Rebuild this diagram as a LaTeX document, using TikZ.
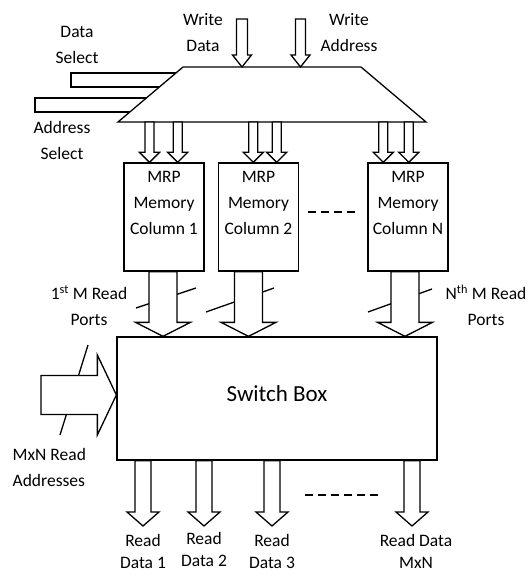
\documentclass[tikz,border=0pt]{standalone}
\usepackage{fontspec}
\setmainfont{Carlito}
\usetikzlibrary{calc}
\newcommand\figfont{\fontsize{17.5}{26}\selectfont}
\newcommand\outfont{\fontsize{17.5}{22}\selectfont}
\newcommand\swfont{\fontsize{23}{28}\selectfont}
\tikzset{box/.style={draw, inner sep=0pt},
         colbox/.style={box, minimum width=80pt, minimum height=108pt},
         lbl/.style={font=\figfont, align=center, inner sep=0pt},
         outlbl/.style={lbl, font=\outfont},
         bus/.style={draw, fill=white},
         gap/.style={dash pattern=on 8pt off 5pt}}
% hollow bus arrows: from, tip, half shaft, half head, head length
\newcommand{\busdown}[5]{%
  \draw[bus] let \p1=(#1), \p2=(#2) in
    (\x2-#3pt,\y1) -- (\x2-#3pt,\y2+#5pt) -- (\x2-#4pt,\y2+#5pt) -- (\x2,\y2)
    -- (\x2+#4pt,\y2+#5pt) -- (\x2+#3pt,\y2+#5pt) -- (\x2+#3pt,\y1) -- cycle;}
\newcommand{\busright}[5]{%
  \draw[bus] let \p1=(#1), \p2=(#2) in
    (\x1,\y2+#3pt) -- (\x2-#5pt,\y2+#3pt) -- (\x2-#5pt,\y2+#4pt) -- (\x2,\y2)
    -- (\x2-#5pt,\y2-#4pt) -- (\x2-#5pt,\y2-#3pt) -- (\x1,\y2-#3pt) -- cycle;}

\begin{document}
\begin{tikzpicture}[x=1pt, y=-1pt, line width=1.3pt]
  \useasboundingbox (0,0) rectangle (528,572);
  % select lines, under the write mux
  \draw (71,73) rectangle (200,87);
  \draw (35,98) rectangle (200,112);
  \draw[fill=white] (118,122) -- (183,67) -- (361,67) -- (426,122) -- cycle;
  \coordinate (wtop) at (272,67);
  \coordinate (wbot) at (272,122);
  \node[lbl] (dsel) at (77,44.5) {Data\\Select};
  \node[lbl] (asel) at (62,140) {Address\\Select};
  \node[lbl] (wdat) at (203,33) {Write\\Data};
  \node[lbl] (wadr) at (349,33) {Write\\Address};
  \coordinate (wd) at (242,19);
  \coordinate (wa) at (300.5,19);
  \busdown{wd}{wd |- wtop}{5.5}{9.5}{12}
  \busdown{wa}{wa |- wtop}{5}{9.5}{12}

  % memory columns
  \node[colbox, label={[lbl, anchor=north, yshift=-8pt]north:{MRP\\Memory\\Column 1}}]
    (col1) at (164,217) {};
  \node[colbox, label={[lbl, anchor=north, yshift=-8pt]north:{MRP\\Memory\\Column 2}}]
    (col2) at (258.5,217) {};
  \node[colbox, label={[lbl, anchor=north, yshift=-8pt]north:{MRP\\Memory\\Column N}}]
    (colN) at (408,217) {};
  \draw[gap] (col2.east) ++(9,-5) -- ++(48,0);
  \foreach \px/\c in {149.5/col1, 177.7/col1, 253.3/col2, 276.7/col2, 383.3/colN, 408.8/colN}
    {\busdown{\px,0 |- wbot}{\px,0 |- \c.north}{4.5}{10}{10}}

  % switch box
  \node[box, minimum width=320pt, minimum height=123pt] (sw) at (277,398.5) {};
  \node[font=\swfont, inner sep=0pt] (swtxt) at ([yshift=5pt]sw.center) {Switch Box};

  % read ports
  \draw (136,308) -- (196,288);
  \draw (206,312) -- (274,288);
  \draw (368,312) -- (432,289);
  \foreach \px/\c in {163/col1, 248.5/col2, 405/colN}
    {\busdown{\px,0 |- \c.south}{\px,0 |- sw.north}{14}{27.5}{14}}
  \node[lbl] (port1) at (89,305.5) {1\textsuperscript{st} M Read\\Ports};
  \node[lbl] (portn) at (486,305.5) {N\textsuperscript{th} M Read\\Ports};

  % read addresses
  \draw (88,345) -- (60,435);
  \coordinate (mxn) at (41,395);
  \busright{mxn}{mxn -| sw.west}{19.5}{40}{19}
  \node[lbl, align=left, anchor=west] (maddr) at (12,467.5) {MxN Read\\Addresses};

  % read data
  \foreach \px in {143, 204, 272, 412}
    {\busdown{\px,0 |- sw.south}{\px,526}{8}{16}{14}}
  \draw[gap] (305,495) -- (378,495);
  \node[outlbl] (rd1) at (143,551.5) {Read\\Data 1};
  \node[outlbl] (rd2) at (204,549.5) {Read\\Data 2};
  \node[outlbl] (rd3) at (272,551.5) {Read\\Data 3};
  \node[outlbl] (rdn) at (416,551.5) {Read Data\\MxN};
\end{tikzpicture}
\end{document}
